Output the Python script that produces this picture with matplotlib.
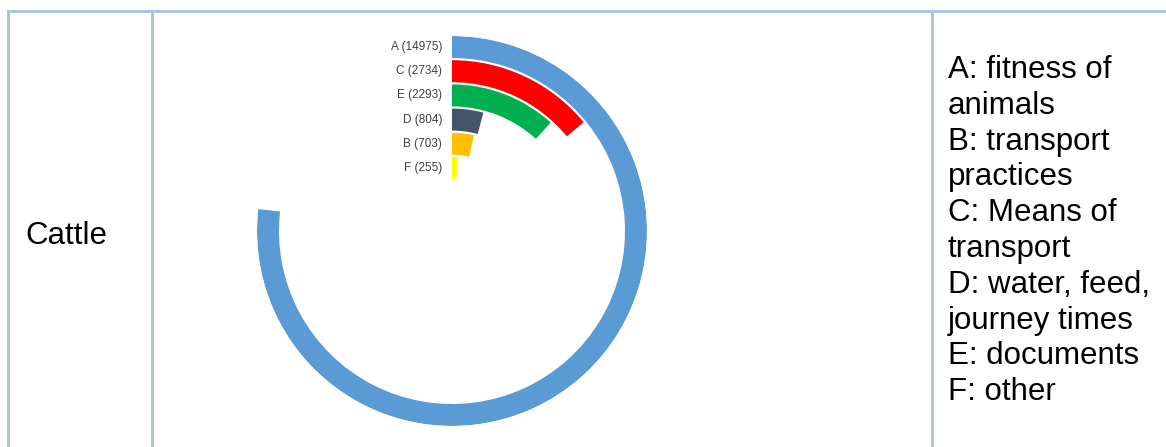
import matplotlib
matplotlib.use('Agg')
import matplotlib.pyplot as plt
import numpy as np

plt.rcParams['font.family'] = ['Liberation Sans', 'DejaVu Sans']

# categories from outer ring to inner ring
codes = ['A', 'C', 'E', 'D', 'B', 'F']
counts = [14975, 2734, 2293, 804, 703, 255]
colors = ['#5B9BD5', '#FF0000', '#00B050', '#44546A', '#FFC000', '#FFFF00']

row_label = 'Cattle'
legend_lines = ['A: fitness of', 'animals', 'B: transport', 'practices',
                'C: Means of', 'transport', 'D: water, feed,', 'journey times',
                'E: documents', 'F: other']

scale_max = 19500  # value that would close a full circle

W, H = 1166, 447
fig = plt.figure(figsize=(W / 100, H / 100), dpi=100)

# table grid drawn in pixel coordinates
grid = fig.add_axes([0, 0, 1, 1])
grid.set_xlim(0, W)
grid.set_ylim(H, 0)
grid.axis('off')
line_col = '#A2C3E3'
grid.plot([8, W], [11, 11], color=line_col, lw=2)
for x in [8, 152, 932]:
    grid.plot([x, x], [11, H], color=line_col, lw=2)

grid.text(25, 244, row_label, fontsize=22.5, color='black', va='baseline')
for i, line in enumerate(legend_lines):
    grid.text(948, 78 + i * 35.8, line, fontsize=22.5, color='black',
              va='baseline')

# radial bar chart
cx, cy, R = 452, H - 231, 195
ax = fig.add_axes([(cx - R) / W, (cy - R) / H, 2 * R / W, 2 * R / H],
                  projection='polar')
ax.set_theta_zero_location('N')
ax.set_theta_direction(-1)
pitch = 24.2
ax.set_ylim(0, R / pitch)
ax.axis('off')
ax.patch.set_alpha(0)

n = len(codes)
for i in range(n):
    theta = counts[i] / scale_max * 2 * np.pi
    r_out = R / pitch - i
    ax.bar(0, 22 / pitch, width=theta, bottom=r_out - 22 / pitch,
           align='edge', color=colors[i], edgecolor='none')
    ax.annotate('%s (%d)' % (codes[i], counts[i]),
                xy=(0, r_out - 11 / pitch), xytext=(-7, 0),
                textcoords='offset points', ha='right', va='center',
                fontsize=8.5, color='#404040')

fig.savefig('out.png', dpi=100)
